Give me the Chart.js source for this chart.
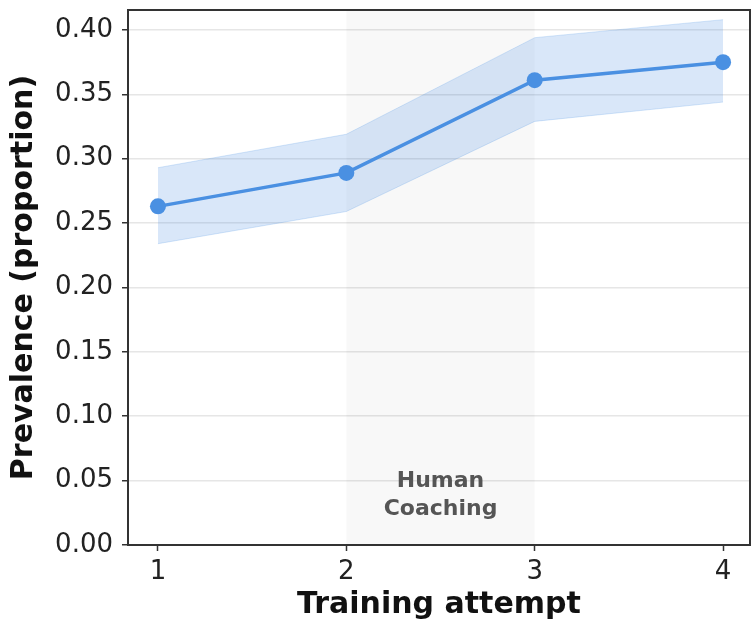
<!DOCTYPE html>
<html>
<head>
<meta charset="utf-8">
<script src="https://cdn.jsdelivr.net/npm/chart.js@4.4.1/dist/chart.umd.min.js"></script>
<style>
  html, body { margin: 0; padding: 0; background: #ffffff; overflow: hidden; }
  #wrap { width: 751px; height: 623px; overflow: hidden; position: relative; }
  #c { position: absolute; left: 0; top: 0; }
</style>
</head>
<body>
<div id="wrap"><canvas id="c" width="758" height="623"></canvas></div>
<script>
// Training attempts and measured prevalence with its interval
const attempts = [1, 2, 3, 4];
const prevalence = [0.263, 0.289, 0.361, 0.375];
const lowerBound = [0.234, 0.259, 0.329, 0.344];
const upperBound = [0.293, 0.319, 0.394, 0.408];
const yTicks = [0, 0.05, 0.10, 0.15, 0.20, 0.25, 0.30, 0.35, 0.40];
const coachingSpan = [2, 3];
const coachingLabel = ['Human', 'Coaching'];

const blue = '#4a90e2';
const font = 'DejaVu Sans';

const pts = arr => attempts.map((x, i) => ({ x: x, y: arr[i] }));

// Shaded coaching phase behind the series, plus the top/right frame lines
const phasePlugin = {
  id: 'phase',
  beforeDatasetsDraw(chart) {
    const { ctx, chartArea, scales } = chart;
    const x0 = scales.x.getPixelForValue(coachingSpan[0]);
    const x1 = scales.x.getPixelForValue(coachingSpan[1]);
    ctx.save();
    ctx.fillStyle = 'rgba(0,0,0,0.028)';
    ctx.fillRect(x0, chartArea.top, x1 - x0, chartArea.bottom - chartArea.top);
    ctx.fillStyle = '#555555';
    ctx.font = 'bold 22px "' + font + '"';
    ctx.textAlign = 'center';
    ctx.textBaseline = 'middle';
    const cx = scales.x.getPixelForValue((coachingSpan[0] + coachingSpan[1]) / 2);
    ctx.fillText(coachingLabel[0], cx, scales.y.getPixelForValue(0.0495));
    ctx.fillText(coachingLabel[1], cx, scales.y.getPixelForValue(0.0277));
    ctx.restore();
  },
  afterDraw(chart) {
    const { ctx, chartArea } = chart;
    ctx.save();
    ctx.strokeStyle = '#333333';
    ctx.lineWidth = 2;
    ctx.beginPath();
    ctx.moveTo(chartArea.left, chartArea.top);
    ctx.lineTo(chartArea.right, chartArea.top);
    ctx.lineTo(chartArea.right, chartArea.bottom);
    ctx.stroke();
    ctx.restore();
  }
};

new Chart(document.getElementById('c'), {
  type: 'line',
  data: {
    datasets: [
      {
        label: 'lower',
        data: pts(lowerBound),
        borderColor: 'rgba(74,144,226,0.22)',
        borderWidth: 1,
        pointRadius: 0,
        fill: false,
        order: 3
      },
      {
        label: 'upper',
        data: pts(upperBound),
        borderColor: 'rgba(74,144,226,0.22)',
        borderWidth: 1,
        pointRadius: 0,
        backgroundColor: 'rgba(74,144,226,0.21)',
        fill: 0,
        order: 2
      },
      {
        label: 'prevalence',
        data: pts(prevalence),
        borderColor: blue,
        backgroundColor: blue,
        borderWidth: 3.5,
        pointRadius: 8,
        pointBorderWidth: 0,
        fill: false,
        order: 1
      }
    ]
  },
  options: {
    responsive: false,
    animation: false,
    layout: { padding: { top: 10, right: 0, left: 0, bottom: 0 } },
    plugins: {
      legend: { display: false },
      tooltip: { enabled: false }
    },
    scales: {
      x: {
        type: 'linear',
        min: 0.841,
        max: 4.143,
        afterBuildTicks(s) { s.ticks = attempts.map(v => ({ value: v })); },
        afterFit(s) {
          s.height = 78;
          s.paddingLeft = 0; s.paddingRight = 0;
        },
        grid: {
          drawOnChartArea: false,
          drawTicks: true,
          tickLength: 6,
          tickColor: '#333333',
          tickWidth: 1.5
        },
        border: { color: '#333333', width: 2 },
        ticks: {
          color: '#222222',
          font: { family: font, size: 26 },
          padding: 6,
          maxRotation: 0,
          callback: v => String(v)
        },
        title: {
          display: true,
          text: 'Training attempt',
          color: '#111111',
          font: { family: font, size: 30, weight: 'bold' },
          padding: { top: 0, bottom: 0 }
        }
      },
      y: {
        min: 0,
        max: 0.4155,
        afterBuildTicks(s) { s.ticks = yTicks.map(v => ({ value: v })); },
        afterFit(s) {
          s.width = 128;
          s.paddingTop = 0; s.paddingBottom = 0;
        },
        grid: {
          color: '#e6e6e6',
          lineWidth: 1.5,
          drawTicks: true,
          tickLength: 6,
          tickColor: '#333333',
          tickWidth: 1.5
        },
        border: { color: '#333333', width: 2 },
        ticks: {
          color: '#222222',
          font: { family: font, size: 26 },
          padding: 9,
          callback: v => v.toFixed(2)
        },
        title: {
          display: true,
          text: 'Prevalence (proportion)',
          color: '#111111',
          font: { family: font, size: 30, weight: 'bold' },
          padding: { top: 6, bottom: 0 }
        }
      }
    }
  },
  plugins: [phasePlugin]
});
</script>
</body>
</html>
